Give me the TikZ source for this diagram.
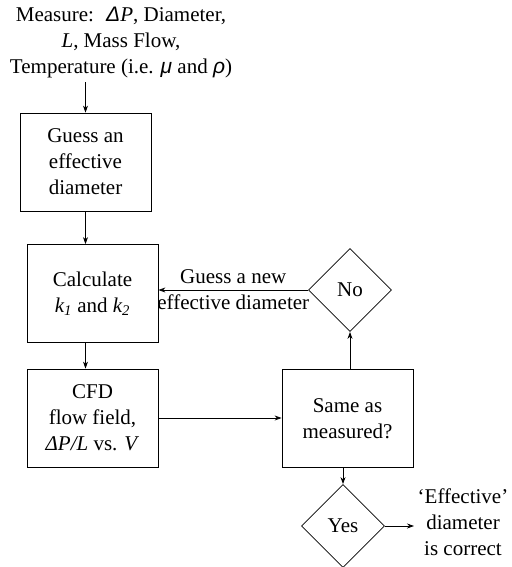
\documentclass[tikz,border=0pt]{standalone}
\usepackage{fontspec}
\setmainfont{Liberation Serif}
\newfontfamily\grkfont{Liberation Sans}
\usetikzlibrary{shapes.geometric,arrows.meta}
\newcommand{\gk}[1]{{\grkfont\itshape #1}}
\tikzset{
	box/.style={draw, minimum width=131, minimum height=98, align=center, inner sep=0},
	decision/.style={draw, diamond, aspect=1, minimum width=83, minimum height=83, inner sep=0},
}
\begin{document}
\begin{tikzpicture}[x=1pt, y=-1pt, line width=0.8pt, >={Stealth[length=7pt,width=5pt]},
	font=\fontsize{21}{26}\selectfont]
	\useasboundingbox (0,0) rectangle (511,567);
	\node (M) at (121,43) [align=center] {Measure:~ \gk{Δ}\textit{P}, Diameter,\\ \textit{L}, Mass Flow,\\ Temperature (i.e. \gk{μ} and \gk{ρ})};
	\node (B1) at (85.5,162) [box] {Guess an\\ effective\\ diameter};
	\node (B2) at (92.5,293.5) [box] {Calculate\\ \textit{k\textsubscript{1}} and \textit{k\textsubscript{2}}};
	\node (B3) at (92.5,418) [box] {CFD\\ flow field,\\ \textit{ΔP/L} vs. \textit{V}};
	\node (B4) at (347.5,418.5) [box] {Same as\\ measured?};
	\node (No) at (350,290) [decision] {No};
	\node (Yes) at (343,526) [decision] {Yes};
	\node (Out) at (463,522) [align=center] {‘Effective’\\ diameter\\ is correct};
	
	\draw [->] (M.south -| B1.north) -- (B1.north);
	\draw [->] (B1.south) -- (B1.south |- B2.north);
	\draw [->] (B1.south |- B2.south) -- (B1.south |- B3.north);
	\draw [->] (B3.east) -- (B3.east -| B4.west);
	\draw [->] (B4.north -| No.south) -- (No.south);
	\draw [->] (No.west) -- (No.west -| B2.east) node[midway, align=center] {Guess a new\\ effective diameter};
	\draw [->] (B4.south -| Yes.north) -- (Yes.north);
	\draw [->] (Yes.east) -- (Yes.east -| Out.west);
\end{tikzpicture}
\end{document}
